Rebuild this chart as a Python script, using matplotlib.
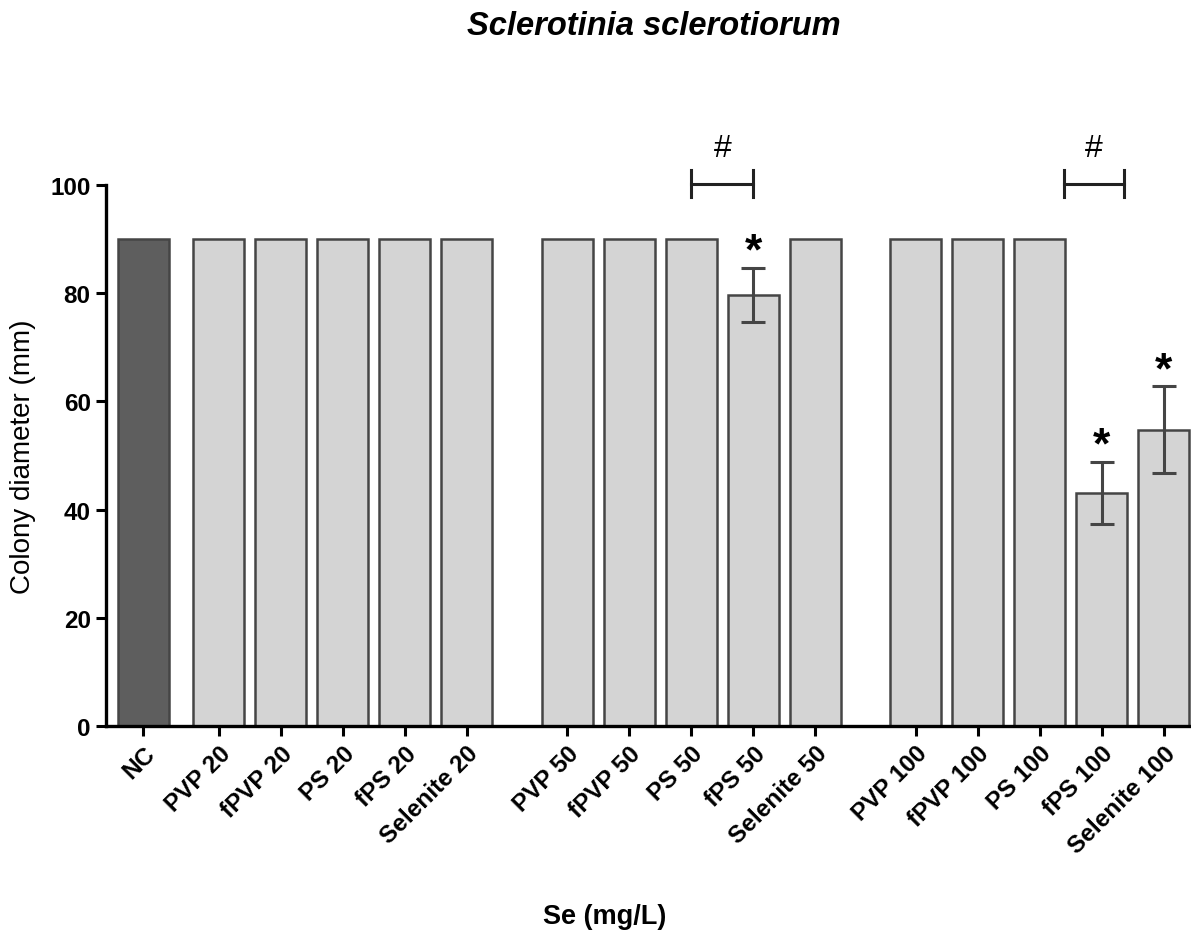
import numpy as np
import matplotlib
matplotlib.use("Agg")
import matplotlib.pyplot as plt

plt.rcParams['font.family'] = ['Liberation Sans', 'DejaVu Sans']

# data
labels = ['NC',
          'PVP 20', 'fPVP 20', 'PS 20', 'fPS 20', 'Selenite 20',
          'PVP 50', 'fPVP 50', 'PS 50', 'fPS 50', 'Selenite 50',
          'PVP 100', 'fPVP 100', 'PS 100', 'fPS 100', 'Selenite 100']
values = [90,
          90, 90, 90, 90, 90,
          90, 90, 90, 79.7, 90,
          90, 90, 90, 43.1, 54.8]
errors = [0,
          0, 0, 0, 0, 0,
          0, 0, 0, 5.0, 0,
          0, 0, 0, 5.8, 8.0]
stars = ['', '', '', '', '', '', '', '', '', '*', '', '', '', '', '*', '*']
groups = [0, 1, 1, 1, 1, 1, 2, 2, 2, 2, 2, 3, 3, 3, 3, 3]

# bar positions: gap after NC and between concentration groups
group_start = [0.0, 1.22, 6.84, 12.46]
pos = []
k = 0
for i, g in enumerate(groups):
    if i > 0 and groups[i - 1] != g:
        k = 0
    pos.append(group_start[g] + k)
    k += 1
pos = np.array(pos)

fig = plt.figure(figsize=(11.91, 9.37), dpi=100)
ax = fig.add_axes([0.089, 0.224, 0.911, 0.5775])

colors = ['#5e5e5e'] + ['#d4d4d4'] * (len(labels) - 1)
ax.bar(pos, values, width=0.82, color=colors, edgecolor='#454545', linewidth=1.8, zorder=2)

err_idx = [i for i, e in enumerate(errors) if e > 0]
ax.errorbar(pos[err_idx], np.array(values)[err_idx], yerr=np.array(errors)[err_idx],
            fmt='none', ecolor='#454545', elinewidth=2.2, capsize=8.6, capthick=2.2, zorder=3)

for i, s in enumerate(stars):
    if s:
        ax.text(pos[i], values[i] + errors[i] + 0.8, s, ha='center', va='baseline',
                fontsize=32, fontweight='bold', clip_on=False)

# significance brackets (#)
brackets = [(pos[8], pos[9]), (pos[13] + 0.39, pos[14] + 0.36)]
for x0, x1 in brackets:
    y = 100.2
    ax.plot([x0, x1], [y, y], color='#222222', lw=2.2, clip_on=False)
    ax.plot([x0, x0], [y - 2.5, y + 2.5], color='#222222', lw=2.2, clip_on=False)
    ax.plot([x1, x1], [y - 2.5, y + 2.5], color='#222222', lw=2.2, clip_on=False)
    ax.text((x0 + x1) / 2, y + 3.8, '#', ha='center', va='bottom', fontsize=23, clip_on=False)

ax.set_xlim(-0.6, 16.9)
ax.set_ylim(0, 100)
ax.set_yticks([0, 20, 40, 60, 80, 100])
ax.set_xticks(pos)
ax.set_xticklabels(labels, rotation=45, ha='right', rotation_mode='anchor',
                   fontsize=17.5, fontweight='bold')
for t in ax.get_yticklabels():
    t.set_fontsize(17.5)
    t.set_fontweight('bold')

for side in ['top', 'right']:
    ax.spines[side].set_visible(False)
for side in ['left', 'bottom']:
    ax.spines[side].set_linewidth(2.4)
    ax.spines[side].set_color('black')
ax.tick_params(axis='both', length=7, width=2.2, direction='out', pad=4)

ax.set_ylabel('Colony diameter (mm)', fontsize=20, labelpad=10)
fig.text(0.508, 0.021, 'Se (mg/L)', ha='center', va='center', fontsize=19.5, fontweight='bold')
fig.text(0.549, 0.972, 'Sclerotinia sclerotiorum', ha='center', va='center',
         fontsize=23.5, fontweight='bold', fontstyle='italic')

fig.savefig('out.png', dpi=100)
